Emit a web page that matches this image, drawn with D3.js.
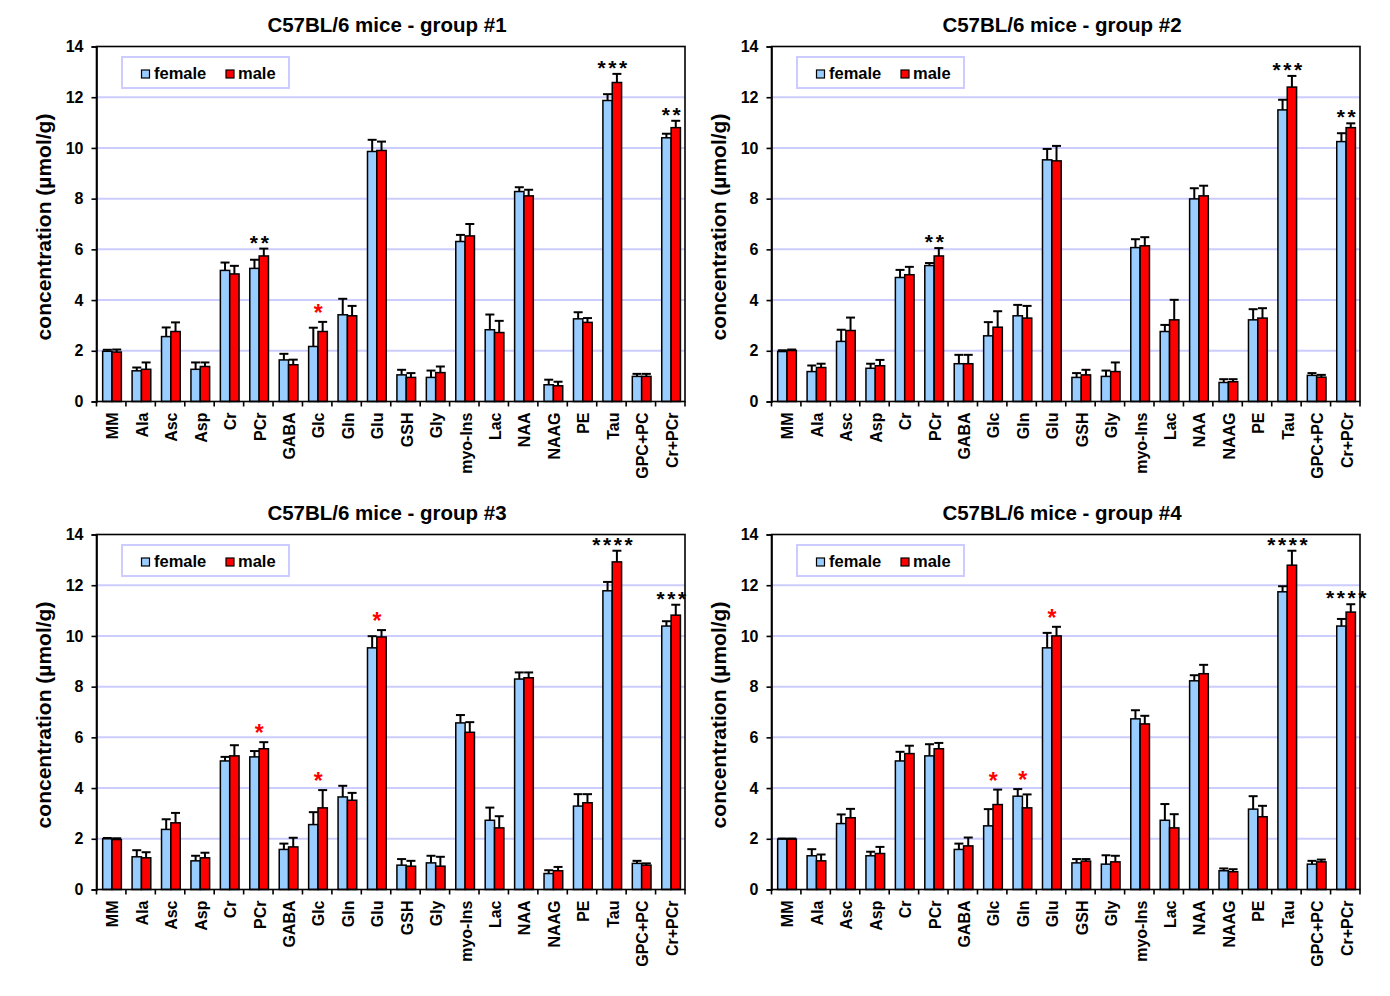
<!DOCTYPE html>
<html>
<head>
<meta charset="utf-8">
<script src="https://cdn.jsdelivr.net/npm/d3@7"></script>
<style>
  html, body { margin: 0; padding: 0; background: #fff; }
  svg { display: block; }
  text { font-family: "Liberation Sans", Arial, sans-serif; font-weight: bold; fill: #000; }
</style>
</head>
<body>
<svg id="chart" width="1390" height="996"></svg>
<script>
const categories = ["MM","Ala","Asc","Asp","Cr","PCr","GABA","Glc","Gln","Glu","GSH","Gly","myo-Ins","Lac","NAA","NAAG","PE","Tau","GPC+PC","Cr+PCr"];
const series = ["female", "male"];
const yTicks = [0, 2, 4, 6, 8, 10, 12, 14];
const titles = ["C57BL/6 mice - group #1", "C57BL/6 mice - group #2", "C57BL/6 mice - group #3", "C57BL/6 mice - group #4"];
const yLabel = "concentration (\u00b5mol/g)";

// group 1
const female1    = [1.98,1.21,2.56,1.27,5.17,5.25,1.64,2.17,3.42,9.86,1.05,0.95,6.31,2.83,8.28,0.66,3.26,11.87,0.99,10.40];
const femaleErr1 = [0.06,0.13,0.36,0.27,0.31,0.34,0.24,0.74,0.63,0.46,0.20,0.27,0.26,0.60,0.17,0.20,0.26,0.25,0.10,0.16];
const male1      = [1.95,1.27,2.76,1.38,5.03,5.74,1.45,2.76,3.38,9.90,0.95,1.14,6.53,2.72,8.11,0.62,3.12,12.58,0.99,10.80];
const maleErr1   = [0.10,0.27,0.36,0.16,0.32,0.29,0.20,0.38,0.39,0.35,0.17,0.24,0.47,0.46,0.24,0.16,0.17,0.34,0.10,0.27];
const sig1 = [["PCr","**"],["Glc","*"],["Tau","***"],["Cr+PCr","**"]];

// group 2
const female2    = [1.97,1.18,2.37,1.31,4.89,5.36,1.49,2.59,3.38,9.53,0.95,0.99,6.07,2.76,7.99,0.75,3.22,11.50,1.03,10.25];
const femaleErr2 = [0.05,0.24,0.46,0.18,0.30,0.10,0.35,0.54,0.43,0.43,0.17,0.23,0.33,0.26,0.42,0.13,0.42,0.40,0.09,0.33];
const male2      = [2.01,1.34,2.80,1.41,5.00,5.74,1.49,2.93,3.29,9.49,1.05,1.18,6.14,3.22,8.11,0.78,3.29,12.40,0.96,10.80];
const maleErr2   = [0.04,0.15,0.51,0.23,0.31,0.31,0.35,0.63,0.48,0.59,0.20,0.36,0.34,0.79,0.40,0.10,0.39,0.44,0.09,0.17];
const sig2 = [["PCr","**"],["Tau","***"],["Cr+PCr","**"]];

// group 3
const female3    = [2.00,1.29,2.37,1.13,5.07,5.23,1.58,2.56,3.65,9.53,0.96,1.05,6.57,2.73,8.30,0.63,3.29,11.78,1.03,10.39];
const femaleErr3 = [0.03,0.26,0.40,0.20,0.16,0.23,0.23,0.49,0.44,0.46,0.24,0.28,0.31,0.50,0.26,0.13,0.47,0.35,0.10,0.19];
const male3      = [1.97,1.25,2.63,1.25,5.27,5.55,1.68,3.22,3.52,9.96,0.92,0.92,6.20,2.43,8.35,0.74,3.42,12.92,0.96,10.82];
const maleErr3   = [0.05,0.22,0.39,0.20,0.42,0.26,0.36,0.70,0.29,0.27,0.21,0.37,0.40,0.46,0.21,0.15,0.34,0.44,0.07,0.41];
const sig3 = [["PCr","*"],["Glc","*"],["Glu","*"],["Tau","****"],["Cr+PCr","***"]];

// group 4
const female4    = [1.99,1.33,2.60,1.33,5.07,5.27,1.58,2.51,3.68,9.53,1.05,1.00,6.73,2.73,8.23,0.74,3.17,11.74,1.00,10.39];
const femaleErr4 = [0.02,0.26,0.36,0.16,0.36,0.46,0.23,0.66,0.28,0.59,0.15,0.35,0.34,0.64,0.22,0.09,0.51,0.22,0.13,0.28];
const male4      = [1.99,1.13,2.83,1.42,5.36,5.55,1.72,3.35,3.22,10.00,1.12,1.09,6.53,2.43,8.51,0.70,2.87,12.79,1.09,10.94];
const maleErr4   = [0.02,0.25,0.35,0.26,0.31,0.23,0.33,0.59,0.53,0.36,0.08,0.24,0.32,0.54,0.35,0.10,0.43,0.57,0.09,0.31];
const sig4 = [["Glc","*"],["Gln","*"],["Glu","*"],["Tau","****"],["Cr+PCr","****"]];

const groups = [
  {female: female1, femaleErr: femaleErr1, male: male1, maleErr: maleErr1, sig: sig1},
  {female: female2, femaleErr: femaleErr2, male: male2, maleErr: maleErr2, sig: sig2},
  {female: female3, femaleErr: femaleErr3, male: male3, maleErr: maleErr3, sig: sig3},
  {female: female4, femaleErr: femaleErr4, male: male4, maleErr: maleErr4, sig: sig4}
];

const colors = {female: "#99CCFF", male: "#FF0000"};
const gridColor = "#CCCCFF";
const W = 588.5, H = 355;
const origins = [[96.5, 46.5], [771.5, 46.5], [96.5, 534.5], [771.5, 534.5]];

const svg = d3.select("#chart");

groups.forEach((g, gi) => {
  const [ox, oy] = origins[gi];
  const root = svg.append("g").attr("transform", `translate(${ox},${oy})`);

  const x = d3.scaleBand().domain(categories).range([0, W]).paddingInner(0.365).paddingOuter(0.1825);
  const x1 = d3.scaleBand().domain(series).range([0, x.bandwidth()]);
  const y = d3.scaleLinear().domain([0, 14]).range([H, 0]);
  const step = x.step();

  // grid
  root.append("g").selectAll("line").data(yTicks.filter(t => t > 0 && t < 14)).join("line")
    .attr("x1", 0).attr("x2", W).attr("y1", d => y(d)).attr("y2", d => y(d))
    .attr("stroke", gridColor).attr("stroke-width", 2);

  // bars
  const rows = categories.map((c, i) => ({
    cat: c,
    vals: series.map(s => ({s, v: g[s][i], e: g[s + "Err"][i]}))
  }));
  const cg = root.append("g").selectAll("g").data(rows).join("g")
    .attr("transform", d => `translate(${x(d.cat) + 0.8},0)`);
  cg.selectAll("rect").data(d => d.vals).join("rect")
    .attr("x", d => x1(d.s)).attr("width", x1.bandwidth())
    .attr("y", d => y(d.v)).attr("height", d => y(0) - y(d.v))
    .attr("fill", d => colors[d.s]).attr("stroke", "#000").attr("stroke-width", 1.5);
  // error bars
  const eb = cg.selectAll("g.err").data(d => d.vals).join("g").attr("class", "err");
  eb.append("line")
    .attr("x1", d => x1(d.s) + x1.bandwidth() / 2).attr("x2", d => x1(d.s) + x1.bandwidth() / 2)
    .attr("y1", d => y(d.v)).attr("y2", d => y(d.v + d.e))
    .attr("stroke", "#000").attr("stroke-width", 2);
  eb.append("line")
    .attr("x1", d => x1(d.s) + x1.bandwidth() / 2 - 4.5).attr("x2", d => x1(d.s) + x1.bandwidth() / 2 + 4.5)
    .attr("y1", d => y(d.v + d.e)).attr("y2", d => y(d.v + d.e))
    .attr("stroke", "#000").attr("stroke-width", 2);

  // frame
  root.append("rect").attr("x", 0).attr("y", 0).attr("width", W).attr("height", H)
    .attr("fill", "none").attr("stroke", "#000").attr("stroke-width", 1.6);

  // y axis
  const yAxis = d3.axisLeft(y).tickValues(yTicks).tickSize(5).tickPadding(8).tickFormat(d3.format("d"));
  const ya = root.append("g").call(yAxis);
  ya.select(".domain").attr("stroke", "#000").attr("stroke-width", 1.6);
  ya.selectAll(".tick line").attr("stroke", "#000").attr("stroke-width", 1.6);
  ya.selectAll(".tick text").style("font-size", "16px").style("font-family", "'Liberation Sans', Arial, sans-serif").style("font-weight", "bold").attr("fill", "#000");

  // x axis ticks between categories
  root.append("g").selectAll("line").data(d3.range(categories.length + 1)).join("line")
    .attr("x1", d => d * step).attr("x2", d => d * step)
    .attr("y1", H).attr("y2", H + 5).attr("stroke", "#000").attr("stroke-width", 1.6);
  root.append("g").selectAll("text").data(categories).join("text")
    .attr("transform", d => `translate(${x(d) + x.bandwidth() / 2 + 1.5},${H + 11}) rotate(-90)`)
    .attr("text-anchor", "end").attr("dy", "0.36em")
    .style("font-size", "16px").text(d => d);

  // significance stars
  root.append("g").selectAll("text").data(g.sig).join("text")
    .each(function (d) {
      const i = categories.indexOf(d[0]);
      const top = Math.max(g.female[i] + g.femaleErr[i], g.male[i] + g.maleErr[i]);
      const single = d[1].length === 1;
      const fs = single ? 23 : 21;
      const ls = single ? 0 : 2.6;
      const cy = y(top) - (single ? 13 : 10);
      d3.select(this)
        .attr("x", x(d[0]) + x.bandwidth() / 2 + 1 + ls / 2)
        .attr("y", cy + fs * 0.52)
        .attr("text-anchor", "middle")
        .style("font-size", fs + "px")
        .style("letter-spacing", ls + "px")
        .attr("fill", single ? "#FF0000" : "#000")
        .style("fill", single ? "#FF0000" : "#000")
        .text(d[1]);
    });

  // title
  root.append("text").attr("x", 290.5).attr("y", -14.5).attr("text-anchor", "middle")
    .style("font-size", "20.5px").text(titles[gi]);

  // y label
  root.append("text").attr("transform", `translate(-45.5,${180.5}) rotate(-90)`)
    .attr("text-anchor", "middle").style("font-size", "21px").text(yLabel);

  // legend
  const lg = root.append("g").attr("transform", "translate(25.5,10.5)");
  lg.append("rect").attr("width", 167).attr("height", 31).attr("fill", "#fff")
    .attr("stroke", gridColor).attr("stroke-width", 2);
  const items = [{s: "female", dx: 19.5, tx: 32}, {s: "male", dx: 104, tx: 116}];
  items.forEach(it => {
    lg.append("rect").attr("x", it.dx).attr("y", 13).attr("width", 8).attr("height", 8)
      .attr("fill", colors[it.s]).attr("stroke", "#000").attr("stroke-width", 1.2);
    lg.append("text").attr("x", it.tx).attr("y", 21.5).style("font-size", "16.5px").text(it.s);
  });
});
</script>
</body>
</html>
